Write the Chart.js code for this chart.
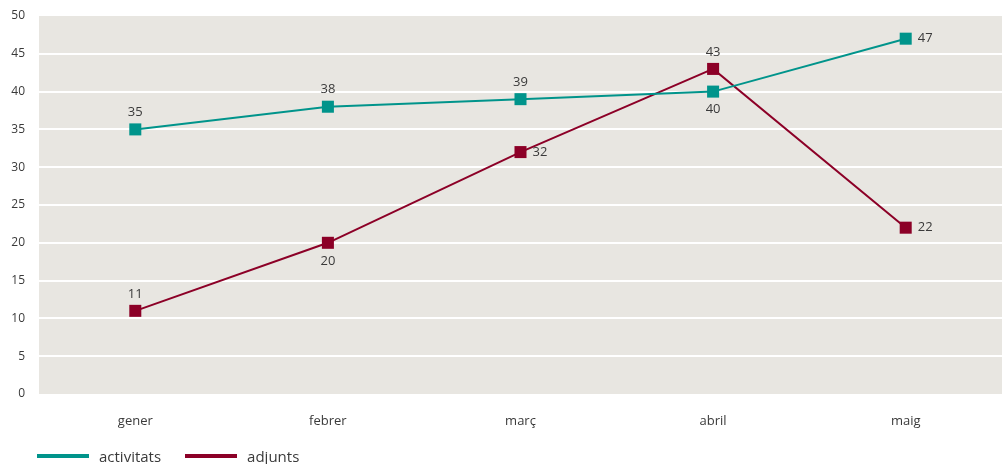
<!DOCTYPE html>
<html>
<head>
<meta charset="utf-8">
<script src="https://cdn.jsdelivr.net/npm/chart.js@4"></script>
<style>
  html, body { margin: 0; padding: 0; background: #fff; }
  #wrap { width: 1002px; height: 464px; position: relative; }
  #legend { position: absolute; left: 37px; top: 446px; display: flex; align-items: center; font: 15px 'Open Sans', 'DejaVu Sans', sans-serif; color: #3a3a3a; }
  #legend .item { display: flex; align-items: center; margin-right: 24px; }
  #legend .swatch { width: 52px; height: 4px; margin-right: 10px; }
</style>
</head>
<body>
<div id="wrap"><canvas id="chart"></canvas><div id="legend"></div></div>
<script>
const mesos = ['gener', 'febrer', 'març', 'abril', 'maig']
const activitats = [35, 38, 39, 40, 47]
const adjunts = [11, 20, 32, 43, 22]
const yTicks = [0, 5, 10, 15, 20, 25, 30, 35, 40, 45, 50]

const TEAL = '#00948b'
const GRANA = '#8c0027'
const TEXT = '#3a3a3a'
const FONT = "'Open Sans', 'DejaVu Sans', sans-serif"

// where each value label sits relative to its marker
const labelPos = [
  ['top', 'top', 'top', 'bottom', 'right'],
  ['top', 'bottom', 'right', 'top', 'right'],
]

const plotBg = {
  id: 'plotBg',
  beforeDraw(chart) {
    const { ctx, chartArea: a } = chart
    ctx.save()
    ctx.fillStyle = '#e8e6e1'
    ctx.fillRect(a.left, a.top, a.right - a.left, a.bottom - a.top)
    ctx.restore()
  },
}

const valueLabels = {
  id: 'valueLabels',
  afterDatasetsDraw(chart) {
    const { ctx } = chart
    ctx.save()
    ctx.font = '13px ' + FONT
    ctx.fillStyle = TEXT
    ctx.textBaseline = 'middle'
    chart.data.datasets.forEach((ds, di) => {
      chart.getDatasetMeta(di).data.forEach((pt, i) => {
        const pos = labelPos[di][i]
        let x = pt.x, y = pt.y
        if (pos === 'top') { ctx.textAlign = 'center'; y -= 17 }
        else if (pos === 'bottom') { ctx.textAlign = 'center'; y += 18 }
        else { ctx.textAlign = 'left'; x += 12 }
        ctx.fillText(ds.data[i], x, y)
      })
    })
    ctx.restore()
  },
}

const chart = new Chart(document.getElementById('chart'), {
  type: 'line',
  data: {
    labels: mesos,
    datasets: [
      { label: 'activitats', data: activitats, borderColor: TEAL, backgroundColor: TEAL, borderWidth: 2, pointStyle: 'rect', pointRadius: 8.5, pointHoverRadius: 8.5, pointBorderWidth: 0, tension: 0, clip: false },
      { label: 'adjunts', data: adjunts, borderColor: GRANA, backgroundColor: GRANA, borderWidth: 2, pointStyle: 'rect', pointRadius: 8.5, pointHoverRadius: 8.5, pointBorderWidth: 0, tension: 0, clip: false },
    ],
  },
  options: {
    responsive: true,
    maintainAspectRatio: false,
    animation: false,
    layout: { padding: { top: 16, right: 0, left: 0, bottom: 25 }, autoPadding: false },
    plugins: {
      tooltip: { enabled: false },
      legend: { display: false },
    },
    scales: {
      x: {
        offset: true,
        grid: { display: false, drawTicks: false },
        border: { display: false },
        ticks: { color: TEXT, font: { family: FONT, size: 13 }, padding: 19 },
        afterFit: s => { s.height = 45 },
      },
      y: {
        min: 0,
        max: 50,
        afterBuildTicks: s => { s.ticks = yTicks.map(v => ({ value: v })) },
        grid: {
          color: c => (c.tick.value === 0 || c.tick.value === 50) ? 'rgba(0,0,0,0)' : '#ffffff',
          lineWidth: 2,
          drawTicks: true,
          tickLength: 12,
          tickColor: 'rgba(0,0,0,0)',
        },
        border: { display: false },
        ticks: { color: TEXT, font: { family: FONT, size: 12 }, padding: 2 },
        afterFit: s => { s.width = 39 },
      },
    },
  },
  plugins: [plotBg, valueLabels],
})

// html legend from the dataset colours
document.getElementById('legend').innerHTML = chart.data.datasets.map(ds =>
  `<div class="item"><span class="swatch" style="background:${ds.borderColor}"></span>${ds.label}</div>`
).join('')
</script>
</body>
</html>
